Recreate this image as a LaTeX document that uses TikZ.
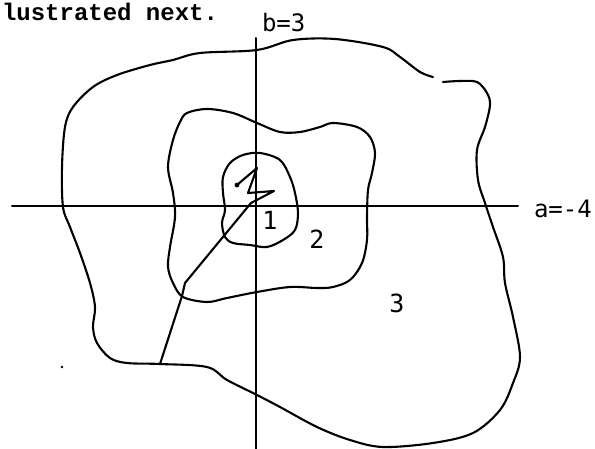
\documentclass[tikz,border=0pt]{standalone}
\usepackage{fontspec}
\newfontfamily\axisfont{DejaVu Sans Mono}
\newfontfamily\typefont{Liberation Mono}

\begin{document}
\begin{tikzpicture}[x=1pt, y=-1pt, line width=2pt, line cap=round, line join=round,
    contour/.style={line width=2.1pt},
    axislbl/.style={font=\axisfont\fontsize{24}{24}\selectfont, inner sep=0pt},
    regionlbl/.style={font=\axisfont\fontsize{25}{25}\selectfont, inner sep=0pt}]
  \useasboundingbox (0,0) rectangle (595,449);

  % text line cut off at the top of the page
  \node[anchor=base west, inner sep=0pt, font=\typefont\bfseries\fontsize{24}{24}\selectfont]
    (head) at (1,21) {lustrated next.};

  % axes
  \coordinate (xl) at (12,206);
  \coordinate (xr) at (518,206);
  \coordinate (yt) at (256,38);
  \coordinate (yb) at (256,449);
  \draw (xl) -- (xr);
  \draw (yt) -- (yb);
  \node[axislbl, anchor=base west] (alab) at (533,218) {a=-4};
  \node[axislbl, anchor=base west] (blab) at (261,32) {b=3};

  % outer contour (3), with the small break at the upper right
  \draw[contour] plot[smooth, tension=0.55] coordinates {
    (443,82) (460,81) (477,82) (487,93) (490,105) (485,127) (477,150) (478,180)
    (485,203) (493,227) (503,257) (505,283) (513,317) (520,357) (513,383)
    (500,410) (473,433) (433,443) (383,447) (350,440) (317,427) (280,407)
    (257,395) (227,380) (207,367) (160,364) (127,363) (110,358) (97,343)
    (93,327) (95,307) (90,283) (80,253) (70,227) (63,207) (62,167) (65,127)
    (73,107) (93,87) (117,75) (150,65) (173,60) (200,53) (257,50) (293,40)
    (335,39) (383,47) (400,57) (420,72) (433,77)};

  % middle contour (2)
  \draw[contour] plot[smooth cycle, tension=0.55] coordinates {
    (173,193) (175,217) (170,247) (168,267) (173,283) (183,297) (207,302)
    (227,298) (257,292) (290,287) (317,288) (333,287) (350,280) (362,263)
    (367,240) (367,217) (368,190) (372,173) (375,153) (370,137) (357,127)
    (333,123) (320,127) (300,132) (280,132) (257,123) (233,113) (207,109)
    (187,113) (180,122) (173,140) (168,167)};

  % inner contour (1)
  \draw[contour] plot[smooth cycle, tension=0.55] coordinates {
    (223,177) (230,163) (243,155) (260,153) (280,160) (290,177) (295,193)
    (298,213) (295,230) (283,240) (267,247) (250,245) (233,243) (225,237)
    (222,223) (225,210) (223,193)};

  % path from the centre out to the outer contour
  \coordinate (p0) at (237,185);
  \coordinate (p1) at (257,168);
  \coordinate (p2) at (248,193);
  \coordinate (p3) at (274,191);
  \coordinate (p4) at (251,203);
  \coordinate (p5) at (185,283);
  \coordinate (p6) at (182,296);
  \coordinate (p7) at (160,364);
  \draw[contour] (p0) -- (p1) -- (p2) -- (p3) -- (p4) -- (p5) -- (p6) -- (p7);
  \fill (p0) circle (2.4pt);

  % region numbers
  \node[regionlbl] (r1) at (270,220) {1};
  \node[regionlbl] (r2) at (317,239) {2};
  \node[regionlbl] (r3) at (397,303) {3};

  % speck left of the outer contour
  \fill (62,367) circle (1.4pt);
\end{tikzpicture}
\end{document}
